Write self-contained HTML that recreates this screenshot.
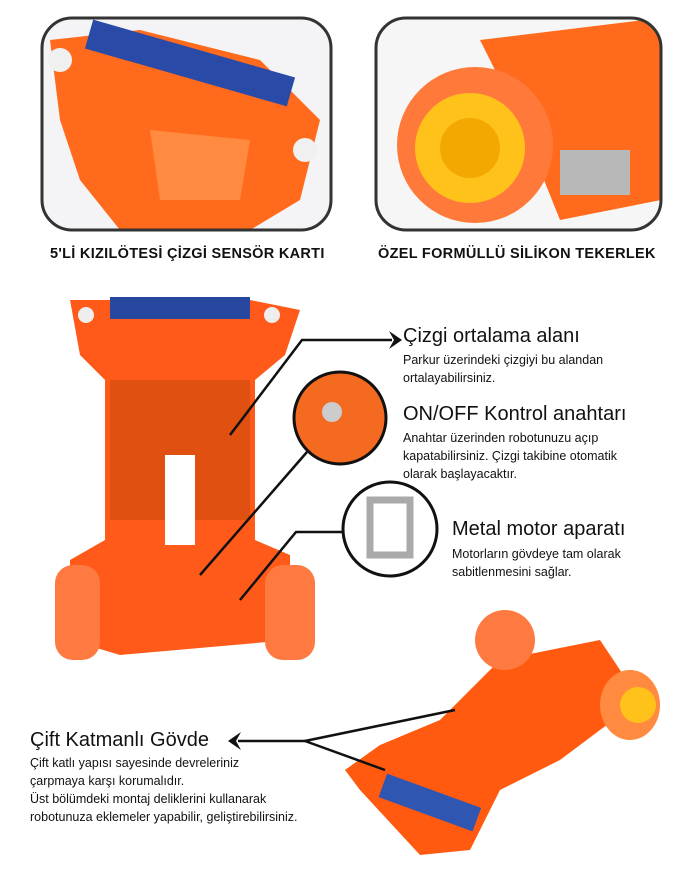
<!DOCTYPE html><html><head><meta charset="utf-8"><style>
body{margin:0;width:687px;height:880px;background:#fff;position:relative;overflow:hidden;font-family:"Liberation Sans",sans-serif;color:#111}
.t{position:absolute;white-space:nowrap}
.h{font-size:20px}
.s{font-size:12.5px;line-height:18px}
.b{font-weight:bold;font-size:14.5px;letter-spacing:0.3px}
</style></head><body>
<svg width="687" height="880" style="position:absolute;left:0;top:0">
<defs><clipPath id="c1"><rect x="42" y="18" width="289" height="212" rx="30"/></clipPath>
<clipPath id="c2"><rect x="376" y="18" width="285" height="212" rx="30"/></clipPath>
<clipPath id="c3"><circle cx="340" cy="418" r="46"/></clipPath></defs>
<g clip-path="url(#c1)"><rect x="42" y="18" width="289" height="212" fill="#f4f4f6"/>
<path d="M50 40 L140 30 L260 60 L320 120 L300 200 L250 230 L120 230 L80 180 L60 120Z" fill="#ff6a1c"/>
<path d="M150 130 L250 140 L240 200 L160 200Z" fill="#ff8a40"/>
<rect x="85" y="48" width="210" height="30" fill="#2a4aa8" transform="rotate(16 190 63)"/>
<circle cx="60" cy="60" r="12" fill="#f0f0f0"/><circle cx="305" cy="150" r="12" fill="#f0f0f0"/></g>
<rect x="42" y="18" width="289" height="212" rx="30" fill="none" stroke="#333" stroke-width="3"/>
<g clip-path="url(#c2)"><rect x="376" y="18" width="285" height="212" fill="#f6f6f6"/>
<path d="M480 40 L661 18 L661 200 L560 220 L520 120Z" fill="#ff6a1c"/>
<circle cx="475" cy="145" r="78" fill="#ff7a3a"/><circle cx="470" cy="148" r="55" fill="#ffc21a"/><circle cx="470" cy="148" r="30" fill="#f2a800"/>
<rect x="560" y="150" width="70" height="45" fill="#b8b8b8"/></g>
<rect x="376" y="18" width="285" height="212" rx="30" fill="none" stroke="#333" stroke-width="3"/>
<!-- middle robot -->
<path d="M70 300 L110 300 L170 310 L250 300 L300 310 L285 355 L255 380 L255 540 L290 555 L290 640 L120 655 L70 640 L70 560 L105 540 L105 380 L80 355Z" fill="#ff5a1a"/>
<rect x="110" y="297" width="140" height="22" fill="#2848a0"/>
<rect x="110" y="380" width="140" height="140" fill="#e05010"/>
<rect x="165" y="455" width="30" height="90" fill="#fff"/>
<rect x="55" y="565" width="45" height="95" rx="18" fill="#ff7a40"/><rect x="265" y="565" width="50" height="95" rx="18" fill="#ff7a40"/>
<circle cx="86" cy="315" r="8" fill="#eee"/><circle cx="272" cy="315" r="8" fill="#eee"/>
<!-- bottom robot -->
<path d="M345 770 L380 745 L440 720 L500 660 L600 640 L640 700 L560 760 L500 790 L470 850 L420 855 L360 790Z" fill="#ff5a10"/>
<rect x="380" y="790" width="100" height="25" fill="#2f56b0" transform="rotate(20 430 802)"/>
<ellipse cx="505" cy="640" rx="30" ry="30" fill="#ff7a40"/><ellipse cx="630" cy="705" rx="30" ry="35" fill="#ff8a40"/><circle cx="638" cy="705" r="18" fill="#ffc21a"/>
<!-- circles -->
<g clip-path="url(#c3)"><rect x="290" y="370" width="100" height="100" fill="#f36a20"/><circle cx="332" cy="412" r="10" fill="#ccc"/></g>
<circle cx="340" cy="418" r="46" fill="none" stroke="#111" stroke-width="3"/>
<circle cx="390" cy="529" r="47" fill="#fff" stroke="#111" stroke-width="3"/>
<rect x="370" y="500" width="40" height="55" fill="none" stroke="#aaa" stroke-width="7"/>
<!-- lines -->
<g stroke="#111" stroke-width="2.5" fill="none">
<polyline points="230,435 302,340 392,340"/>
<line x1="307" y1="452" x2="200" y2="575"/>
<polyline points="343,532 296,532 240,600"/>
<polyline points="455,710 305,741 385,770"/>
<line x1="305" y1="741" x2="238" y2="741"/></g>
<path d="M389 331 L402 340 L389 349 L394 340Z" fill="#111"/>
<path d="M241 732 L228 741 L241 750 L236 741Z" fill="#111"/>
</svg>
<div class="t b" style="left:50px;top:246px">5'Lİ KIZILÖTESİ ÇİZGİ SENSÖR KARTI</div>
<div class="t b" style="left:378px;top:246px">ÖZEL FORMÜLLÜ SİLİKON TEKERLEK</div>
<div class="t h" style="left:403px;top:325px">Çizgi ortalama alanı</div>
<div class="t s" style="left:403px;top:351px">Parkur üzerindeki çizgiyi bu alandan<br>ortalayabilirsiniz.</div>
<div class="t h" style="left:403px;top:403px">ON/OFF Kontrol anahtarı</div>
<div class="t s" style="left:403px;top:429px">Anahtar üzerinden robotunuzu açıp<br>kapatabilirsiniz. Çizgi takibine otomatik<br>olarak başlayacaktır.</div>
<div class="t h" style="left:452px;top:518px">Metal motor aparatı</div>
<div class="t s" style="left:452px;top:545px">Motorların gövdeye tam olarak<br>sabitlenmesini sağlar.</div>
<div class="t h" style="left:30px;top:729px">Çift Katmanlı Gövde</div>
<div class="t s" style="left:30px;top:754px">Çift katlı yapısı sayesinde devreleriniz<br>çarpmaya karşı korumalıdır.<br>Üst bölümdeki montaj deliklerini kullanarak<br>robotunuza eklemeler yapabilir, geliştirebilirsiniz.</div>
</body></html>
